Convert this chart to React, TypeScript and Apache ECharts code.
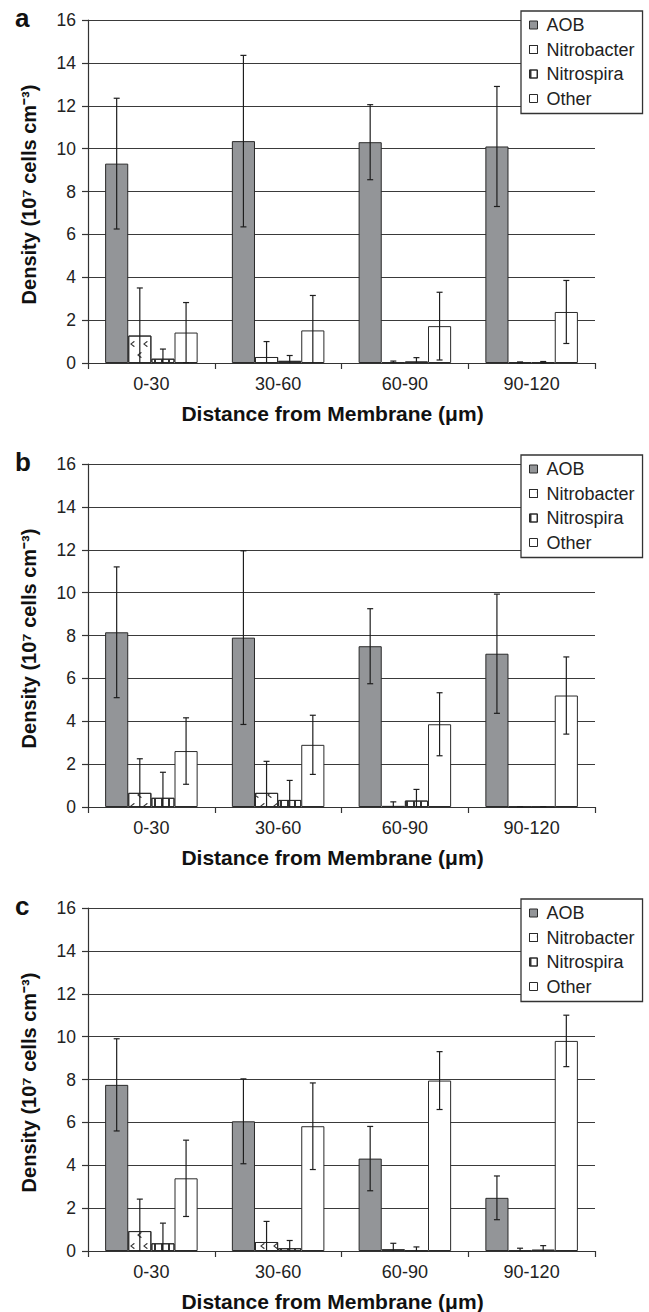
import React, { useEffect, useRef } from "react";
import * as echarts from "echarts";

const CATEGORIES = ["0-30", "30-60", "60-90", "90-120"];
const SERIES_NAMES = ["AOB", "Nitrobacter", "Nitrospira", "Other"];
const Y_TICKS = [0, 16, 2]; // min, max, interval

// Panel a
const A_AOB = [9.3, 10.35, 10.3, 10.1];
const A_AOB_SD = [3.05, 4.0, 1.75, 2.8];
const A_NITROBACTER = [1.28, 0.28, 0.04, 0.03];
const A_NITROBACTER_SD = [2.22, 0.72, 0.05, 0.02];
const A_NITROSPIRA = [0.2, 0.1, 0.07, 0.04];
const A_NITROSPIRA_SD = [0.45, 0.25, 0.18, 0.03];
const A_OTHER = [1.42, 1.52, 1.72, 2.38];
const A_OTHER_SD = [1.4, 1.63, 1.58, 1.47];

// Panel b
const B_AOB = [8.15, 7.9, 7.5, 7.15];
const B_AOB_SD = [3.05, 4.05, 1.75, 2.78];
const B_NITROBACTER = [0.66, 0.66, 0.05, 0.01];
const B_NITROBACTER_SD = [1.59, 1.47, 0.19, 0.01];
const B_NITROSPIRA = [0.43, 0.33, 0.3, 0.01];
const B_NITROSPIRA_SD = [1.19, 0.91, 0.52, 0.01];
const B_OTHER = [2.61, 2.9, 3.86, 5.2];
const B_OTHER_SD = [1.55, 1.38, 1.47, 1.8];

// Panel c
const C_AOB = [7.75, 6.05, 4.31, 2.48];
const C_AOB_SD = [2.15, 1.98, 1.5, 1.02];
const C_NITROBACTER = [0.93, 0.42, 0.08, 0.02];
const C_NITROBACTER_SD = [1.49, 0.96, 0.28, 0.11];
const C_NITROSPIRA = [0.36, 0.13, 0.03, 0.06];
const C_NITROSPIRA_SD = [0.94, 0.36, 0.16, 0.19];
const C_OTHER = [3.39, 5.82, 7.95, 9.8];
const C_OTHER_SD = [1.78, 2.02, 1.35, 1.2];

const PANELS = [
  { letter: "a", means: [A_AOB, A_NITROBACTER, A_NITROSPIRA, A_OTHER], sds: [A_AOB_SD, A_NITROBACTER_SD, A_NITROSPIRA_SD, A_OTHER_SD] },
  { letter: "b", means: [B_AOB, B_NITROBACTER, B_NITROSPIRA, B_OTHER], sds: [B_AOB_SD, B_NITROBACTER_SD, B_NITROSPIRA_SD, B_OTHER_SD] },
  { letter: "c", means: [C_AOB, C_NITROBACTER, C_NITROSPIRA, C_OTHER], sds: [C_AOB_SD, C_NITROBACTER_SD, C_NITROSPIRA_SD, C_OTHER_SD] },
];

const Y_TITLE = "Density (10\u2077 cells cm\u207B\u00B3)";
const X_TITLE = "Distance from Membrane (\u03BCm)";

const FONT = "'Liberation Sans', Arial, Helvetica, sans-serif";
const INK = "#222";
const GRID_TOPS = [20, 464, 908];
const GRID_H = 343;
const GRID_LEFT = 88;
const GRID_RIGHT_EDGE = 595;
const CAT_GAP = 0.27;

const BAR_STYLES = [
  { color: "#939598", borderColor: "#2a2a2a", borderWidth: 1 },
  {
    color: "#ffffff",
    borderColor: "#2a2a2a",
    borderWidth: 1,
    decal: {
      symbol: "path://M5,0 L6.5,1 L2.2,4 L6.5,7 L5,8 L0,4 Z",
      symbolSize: 1,
      color: "#333",
      dashArrayX: [[5, 8], [0, 7, 5, 1]],
      dashArrayY: [6, 5],
      rotation: 0,
    },
  },
  {
    color: "#ffffff",
    borderColor: "#2a2a2a",
    borderWidth: 1,
    decal: {
      symbol: "rect",
      symbolSize: 1,
      color: "#333",
      dashArrayX: [1.2, 4.6],
      dashArrayY: [10, 0],
      rotation: 0,
    },
  },
  { color: "#ffffff", borderColor: "#2a2a2a", borderWidth: 1 },
];

function buildOption() {
  const grid: any[] = [];
  const xAxis: any[] = [];
  const yAxis: any[] = [];
  const legend: any[] = [];
  const series: any[] = [];
  const graphic: any[] = [];

  PANELS.forEach((p, pi) => {
    const top = GRID_TOPS[pi];
    grid.push({
      left: GRID_LEFT,
      width: GRID_RIGHT_EDGE - GRID_LEFT,
      top,
      height: GRID_H,
      containLabel: false,
    });
    xAxis.push({
      type: "category",
      gridIndex: pi,
      data: CATEGORIES,
      boundaryGap: true,
      axisLine: { show: true, lineStyle: { color: "#333", width: 1.2 } },
      axisTick: { show: true, length: 6, lineStyle: { color: "#333", width: 1.2 } },
      axisLabel: { fontSize: 18, color: INK, fontFamily: FONT, margin: 12 },
      splitLine: { show: false },
    });
    yAxis.push({
      type: "value",
      gridIndex: pi,
      min: Y_TICKS[0],
      max: Y_TICKS[1],
      interval: Y_TICKS[2],
      axisLine: { show: true, lineStyle: { color: "#333", width: 1.2 } },
      axisTick: { show: true, length: 6, lineStyle: { color: "#333", width: 1.2 } },
      axisLabel: { fontSize: 17.5, color: INK, fontFamily: FONT, margin: 12 },
      splitLine: { show: true, lineStyle: { color: "#3a3a3a", width: 1.2 } },
    });
    legend.push({
      orient: "vertical",
      left: 521,
      top: top - 9,
      itemWidth: 8,
      itemHeight: 8,
      itemGap: 6.5,
      icon: "rect",
      padding: [5, 8, 6, 8],
      backgroundColor: "#ffffff",
      borderColor: "#333",
      borderWidth: 1.3,
      borderRadius: 0,
      selectedMode: false,
      data: SERIES_NAMES,
      itemStyle: { borderWidth: 1, borderColor: "#2a2a2a" },
      textStyle: { fontSize: 18, color: INK, fontFamily: FONT, lineHeight: 18, padding: [0, 0, 0, 4] },
    });

    SERIES_NAMES.forEach((name, k) => {
      series.push({
        type: "bar",
        name,
        xAxisIndex: pi,
        yAxisIndex: pi,
        data: p.means[k],
        barCategoryGap: CAT_GAP * 100 + "%",
        barGap: "0%",
        itemStyle: BAR_STYLES[k],
        emphasis: { disabled: true },
        z: 2,
      });
    });

    SERIES_NAMES.forEach((name, k) => {
      const errData = p.means[k].map((m, i) => [i, m - p.sds[k][i], m + p.sds[k][i]]);
      series.push({
        type: "custom",
        xAxisIndex: pi,
        yAxisIndex: pi,
        data: errData,
        z: 5,
        clip: false,
        silent: true,
        renderItem: (params: any, api: any) => {
          const cat = api.value(0);
          const lo = api.value(1);
          const hi = api.value(2);
          const w = api.size([1, 0])[0];
          const usable = w * (1 - CAT_GAP);
          const bw = usable / 4;
          const off = -usable / 2 + bw * (k + 0.5);
          const pTop = api.coord([cat, hi]);
          const pBot = api.coord([cat, Math.max(lo, 0)]);
          const x = pTop[0] + off;
          const cap = 3;
          const st = { stroke: "#1e1e1e", lineWidth: 1.2 };
          const children: any[] = [
            { type: "line", shape: { x1: x, y1: pTop[1], x2: x, y2: pBot[1] }, style: st },
            { type: "line", shape: { x1: x - cap, y1: pTop[1], x2: x + cap, y2: pTop[1] }, style: st },
          ];
          if (lo > 0) {
            children.push({ type: "line", shape: { x1: x - cap, y1: pBot[1], x2: x + cap, y2: pBot[1] }, style: st });
          }
          return { type: "group", children };
        },
      });
    });

    graphic.push({
      type: "text",
      left: 15,
      top: top - 15,
      style: { text: p.letter, fill: "#111", font: `bold 26px ${FONT}` },
    });
    graphic.push({
      type: "text",
      x: 29,
      y: top + GRID_H / 2 + 3,
      rotation: Math.PI / 2,
      style: {
        text: Y_TITLE,
        font: `bold 20px ${FONT}`,
        fill: "#111",
        align: "center",
        verticalAlign: "middle",
      },
    });
    graphic.push({
      type: "text",
      x: (GRID_LEFT + GRID_RIGHT_EDGE) / 2 - 9,
      y: top + GRID_H + 50,
      style: {
        text: X_TITLE,
        font: `bold 21px ${FONT}`,
        fill: "#111",
        align: "center",
        verticalAlign: "middle",
      },
    });
  });

  return {
    animation: false,
    backgroundColor: "#ffffff",
    textStyle: { fontFamily: FONT },
    grid,
    xAxis,
    yAxis,
    legend,
    series,
    graphic,
  };
}

export default function App() {
  const ref = useRef<HTMLDivElement>(null);
  useEffect(() => {
    if (!ref.current) return;
    const chart = echarts.init(ref.current, undefined, { renderer: "svg" });
    chart.setOption(buildOption() as any);
    return () => chart.dispose();
  }, []);
  return (
    <div
      ref={ref}
      style={{ position: "absolute", left: 0, top: 0, width: 649, height: 1312, background: "#fff" }}
    />
  );
}
